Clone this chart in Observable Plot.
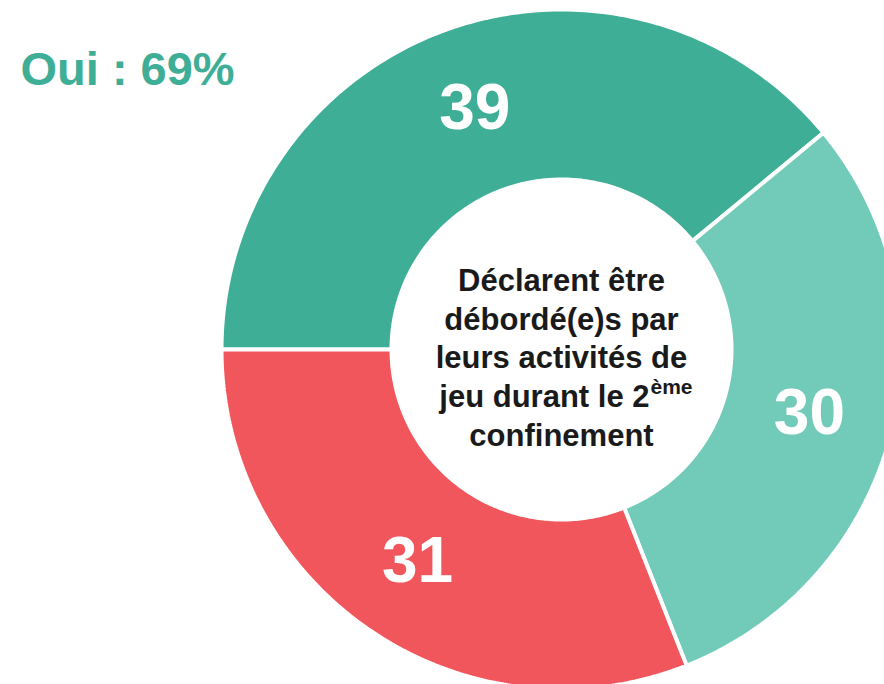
<!DOCTYPE html>
<html>
<head>
<meta charset="utf-8">
<script src="https://cdn.jsdelivr.net/npm/d3@7"></script>
<script src="https://cdn.jsdelivr.net/npm/@observablehq/plot@0.6"></script>
<style>
  html, body { margin: 0; padding: 0; background: #fff; overflow: hidden; }
  #chart { width: 884px; height: 684px; }
</style>
</head>
<body>
<div id="chart"></div>
<script>
// ---- data ----
const categories = ["Oui A", "Oui B", "Non"];
const values = [39, 30, 31];
const ouiCategories = ["Oui A", "Oui B"];
const centerLines = ["Déclarent être", "débordé(e)s par", "leurs activités de", "jeu durant le 2", "confinement"];
const superscript = "ème";

// ---- style ----
const colors = ["#3FAE96", "#72CBB9", "#F0565B"];
const FONT = "Liberation Sans, Arial, Helvetica, sans-serif";
const R_OUT = 340, R_IN = 170, R_LABEL = 256;

const total = d3.sum(values);
const startDeg = -90;
let acc = 0;
const slices = categories.map((c, i) => {
  const a0 = startDeg + acc / total * 360;
  acc += values[i];
  const a1 = startDeg + acc / total * 360;
  return {category: c, value: values[i], a0, a1, color: colors[i]};
});
const rad = d => d * Math.PI / 180;
function slicePoints(s) {
  const N = 160, pts = [];
  for (let k = 0; k <= N; k++) {
    const a = rad(s.a0 + (s.a1 - s.a0) * k / N);
    pts.push({x: R_OUT * Math.sin(a), y: R_OUT * Math.cos(a)});
  }
  for (let k = N; k >= 0; k--) {
    const a = rad(s.a0 + (s.a1 - s.a0) * k / N);
    pts.push({x: R_IN * Math.sin(a), y: R_IN * Math.cos(a)});
  }
  pts.push(pts[0]);
  return pts;
}
const labels = slices.map(s => {
  const m = rad((s.a0 + s.a1) / 2);
  return {x: R_LABEL * Math.sin(m), y: R_LABEL * Math.cos(m), text: String(s.value)};
});
const ouiTotal = d3.sum(categories.map((c, i) => ouiCategories.includes(c) ? values[i] : 0));

const lineGap = 38.7;
const lineRows = centerLines.map((t, i) => ({text: t, i, y: -9 - (i - 2) * lineGap}));

const plot = Plot.plot({
  width: 884,
  height: 684,
  margin: 0,
  style: {fontFamily: FONT, background: "#fff"},
  x: {domain: [-561, 323], axis: null},
  y: {domain: [-335, 349], axis: null},
  marks: [
    ...slices.map(s => Plot.line(slicePoints(s), {
      x: "x", y: "y", fill: s.color, stroke: "white", strokeWidth: 4, strokeLinejoin: "miter"
    })),
    Plot.text(labels, {x: "x", y: "y", text: "text", fill: "white", fontSize: 64, fontWeight: "bold"}),
    Plot.text(lineRows.filter(d => d.i !== 3), {x: () => 0, y: "y", text: "text", fill: "#1a1a1a", fontSize: 31, fontWeight: "bold"}),
    Plot.text(lineRows.filter(d => d.i === 3), {x: () => 0, y: "y", text: "text", fill: "#1a1a1a", fontSize: 31, fontWeight: "bold", textAnchor: "end", dx: 88}),
    Plot.text(lineRows.filter(d => d.i === 3), {x: () => 0, y: "y", text: () => superscript, fill: "#1a1a1a", fontSize: 21, fontWeight: "bold", textAnchor: "start", dx: 89, dy: -10}),
    Plot.text([`Oui : ${ouiTotal}%`], {frameAnchor: "top-left", textAnchor: "start", lineAnchor: "top", dx: 20, dy: 51, fill: colors[0], fontSize: 47, fontWeight: "bold"})
  ]
});
document.getElementById("chart").appendChild(plot);
</script>
</body>
</html>
